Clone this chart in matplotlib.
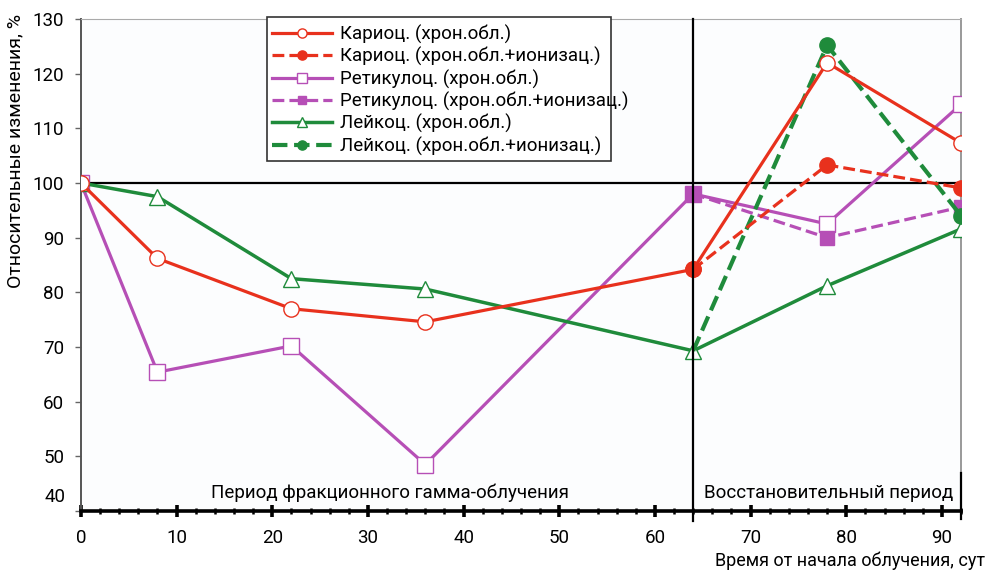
import numpy as np
import matplotlib
matplotlib.use("Agg")
import matplotlib.pyplot as plt
from matplotlib.ticker import MultipleLocator, FuncFormatter
from matplotlib.patches import Rectangle

plt.rcParams['font.family'] = ['Roboto', 'DejaVu Sans']

# days from the start of irradiation
days = [0, 8, 22, 36, 64, 78, 92]
days_rec = [64, 78, 92]

kario = [100, 86.2, 77.0, 74.6, 84.2, 122.0, 107.3]
kario_ion = [84.2, 103.3, 99.1]
retik = [100, 65.4, 70.2, 48.5, 98.0, 92.5, 114.4]
retik_ion = [98.0, 90.0, 95.6]
leuk = [100, 97.5, 82.5, 80.6, 69.3, 81.2, 91.6]
leuk_ion = [69.3, 125.2, 94.0]

labels = ["Кариоц. (хрон.обл.)", "Кариоц. (хрон.обл.+ионизац.)",
          "Ретикулоц. (хрон.обл.)", "Ретикулоц. (хрон.обл.+ионизац.)",
          "Лейкоц. (хрон.обл.)", "Лейкоц. (хрон.обл.+ионизац.)"]

red = '#e8311d'
purple = '#b64fb6'
green = '#1f8b3b'
fs = 13.5

fig = plt.figure(figsize=(9.87, 5.70), dpi=100)
ax = fig.add_axes([0.082, 0.1035, 0.8917, 0.8632])
ax.set_facecolor('#fcfdfe')

ax.axhline(100, color='black', lw=1.6, zorder=2)
ax.axvline(64, color='black', lw=1.6, zorder=5, ymin=-0.02, clip_on=False)

ax.plot(days, kario, '-', color=red, lw=2.3, marker='o', ms=11,
        mfc='white', mec=red, mew=1.0, label=labels[0], zorder=4)
ax.plot(days_rec, kario_ion, '--', color=red, lw=2.3, marker='o', ms=11,
        mfc=red, mec=red, label=labels[1], zorder=4)
ax.plot(days, retik, '-', color=purple, lw=2.3, marker='s', ms=12,
        mfc='white', mec=purple, mew=1.0, label=labels[2], zorder=3)
ax.plot(days_rec, retik_ion, '--', color=purple, lw=2.3, marker='s', ms=10,
        mfc=purple, mec=purple, label=labels[3], zorder=3)
ax.plot(days, leuk, '-', color=green, lw=2.5, marker='^', ms=12,
        mfc='white', mec=green, mew=1.0, label=labels[4], zorder=3)
ax.plot(days_rec, leuk_ion, '--', color=green, lw=3.0, marker='o', ms=11,
        mfc=green, mec=green, label=labels[5], zorder=3, markevery=[1, 2])

ax.set_xlim(0, 92)
ax.set_ylim(40, 130)
ax.xaxis.set_major_locator(MultipleLocator(10))
ax.xaxis.set_minor_locator(MultipleLocator(2))
ax.set_xticks(range(0, 100, 10))
ax.yaxis.set_major_locator(MultipleLocator(10))
# "40" is drawn separately, slightly above its tick
ax.yaxis.set_major_formatter(FuncFormatter(lambda v, p: '' if v == 40 else f'{v:.0f}'))
ax.annotate('40', xy=(0, 40), xycoords=('axes fraction', 'data'),
            xytext=(-11, 10), textcoords='offset points', ha='right',
            va='center', fontsize=fs)

ax.spines['bottom'].set_linewidth(2.6)
ax.spines['bottom'].set_color('black')
ax.spines['left'].set_color('#555555')
ax.spines['left'].set_linewidth(1.4)
ax.spines['top'].set_color('#aaaaaa')
ax.spines['right'].set_color('#999999')
ax.spines['right'].set_linewidth(1.4)

ax.tick_params(axis='x', which='major', direction='inout', length=8, width=2.6,
               pad=9, labelsize=fs)
ax.tick_params(axis='x', which='minor', direction='inout', length=4, width=1.8)
ax.tick_params(axis='y', direction='out', length=4, width=1, color='#666666',
               pad=8, labelsize=fs)

# black end marks at 92
ax.plot([92, 92], [40, 47], color='black', lw=1.6, clip_on=False, zorder=5)
ax.plot([92, 92], [38.5, 40], color='black', lw=1.6, clip_on=False, zorder=5)

ax.text(32.3, 43.3, "Период фракционного гамма-облучения", ha='center',
        va='center', fontsize=fs, zorder=6)
ax.text(78.2, 43.3, "Восстановительный период", ha='center',
        va='center', fontsize=fs, zorder=6)

# legend box is narrower than the longest entry, as in the source
box = Rectangle(((267 - 81) / 880, 1 - (161 - 19) / 492), (611 - 267) / 880,
                (161 - 17) / 492, transform=ax.transAxes, facecolor='white',
                edgecolor='#333333', lw=1.2, zorder=9, clip_on=False)
ax.add_patch(box)
leg = ax.legend(loc='upper left', bbox_to_anchor=(0.211, 1.0), fontsize=fs,
                frameon=False, handlelength=3.2, handletextpad=0.4,
                labelspacing=0.17, borderpad=0.3, borderaxespad=0,
                markerscale=0.6)
leg.set_zorder(10)

fig.text(15 / 987, 1 - 14 / 570, "Относительные изменения, %", rotation=90,
         ha='center', va='top', fontsize=14)
fig.text(0.998, 1 - 561 / 570, "Время от начала облучения, сут", ha='right',
         va='center', fontsize=13)

fig.savefig("out.png", dpi=100, facecolor='white')
